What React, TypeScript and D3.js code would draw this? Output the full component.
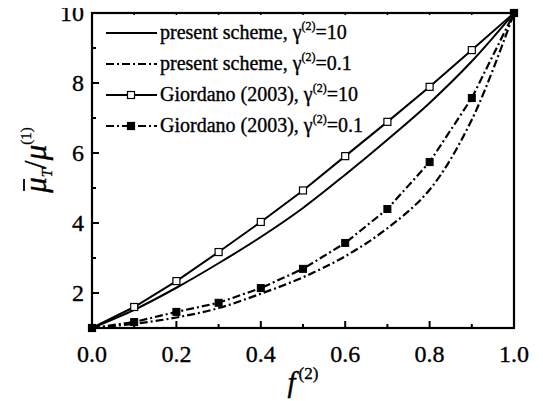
import React from "react";
import * as d3 from "d3";

const fValues = [0, 0.1, 0.2, 0.3, 0.4, 0.5, 0.6, 0.7, 0.8, 0.9, 1.0];
const presentG10 = [1, 1.52, 2.15, 2.85, 3.6, 4.43, 5.38, 6.38, 7.43, 8.62, 10];
const presentG01 = [1, 1.12, 1.3, 1.57, 1.98, 2.45, 3.05, 3.85, 4.95, 6.95, 10];
const giordanoG10 = [1, 1.6, 2.34, 3.17, 4.03, 4.93, 5.91, 6.89, 7.89, 8.94, 10];
const giordanoG01 = [1, 1.17, 1.46, 1.72, 2.14, 2.69, 3.43, 4.4, 5.74, 7.57, 10];

const xTicks = [0, 0.2, 0.4, 0.6, 0.8, 1.0];
const xMinor = [0.1, 0.3, 0.5, 0.7, 0.9];
const yTicks = [2, 4, 6, 8, 10];
const yMinor = [1, 3, 5, 7, 9];

const W = 543, H = 401;
const L = 92, R = 514, T = 13, B = 328;

export default function App() {
  const x = d3.scaleLinear().domain([0, 1]).range([L, R]);
  const y = d3.scaleLinear().domain([1, 10]).range([B, T]);
  const line = d3.line<number>().x((_, i) => x(fValues[i])).y((v) => y(v)).curve(d3.curveCatmullRom.alpha(0.5));
  const lineLin = d3.line<number>().x((_, i) => x(fValues[i])).y((v) => y(v));
  const dashDot = "8,3,2,3";
  const legendRows = [
    { y: 33, dash: undefined as string | undefined, marker: "none", label: "present scheme, ", val: "=10" },
    { y: 64, dash: dashDot, marker: "none", label: "present scheme, ", val: "=0.1" },
    { y: 95, dash: undefined, marker: "open", label: "Giordano (2003), ", val: "=10" },
    { y: 126, dash: dashDot, marker: "filled", label: "Giordano (2003), ", val: "=0.1" },
  ];
  const sq = 7;
  const bold = { stroke: "#000", strokeWidth: 0.35 };
  return (
    <svg width={W} height={H} style={{ display: "block", margin: "-8px 0 0 -8px", background: "#fff" }}>
      <g style={{ fontFamily: "Liberation Serif" }}>
        <rect x={0} y={0} width={W} height={H} fill="#fff" />
        <path d={line(presentG10) || ""} fill="none" stroke="#000" strokeWidth={2} />
        <path d={line(presentG01) || ""} fill="none" stroke="#000" strokeWidth={2.2} strokeDasharray={dashDot} />
        <path d={lineLin(giordanoG10) || ""} fill="none" stroke="#000" strokeWidth={2} />
        <path d={lineLin(giordanoG01) || ""} fill="none" stroke="#000" strokeWidth={2.2} strokeDasharray={dashDot} />
        {giordanoG10.map((v, i) => (
          <rect key={"o" + i} x={x(fValues[i]) - sq / 2} y={y(v) - sq / 2} width={sq} height={sq} fill="#fff" stroke="#000" strokeWidth={1.2} />
        ))}
        {giordanoG01.map((v, i) => (
          <rect key={"f" + i} x={x(fValues[i]) - sq / 2} y={y(v) - sq / 2} width={sq} height={sq} fill="#000" stroke="#000" strokeWidth={1} />
        ))}
        <rect x={L} y={T} width={R - L} height={B - T} fill="none" stroke="#000" strokeWidth={2.2} />
        {xTicks.map((t) => (
          <line key={"xt" + t} x1={x(t)} x2={x(t)} y1={B} y2={B - 7} stroke="#000" strokeWidth={2} />
        ))}
        {xMinor.map((t) => (
          <line key={"xm" + t} x1={x(t)} x2={x(t)} y1={B} y2={B - 4} stroke="#000" strokeWidth={2} />
        ))}
        {[...xTicks, ...xMinor].map((t) => (
          <line key={"xtop" + t} x1={x(t)} x2={x(t)} y1={T} y2={T + 2} stroke="#000" strokeWidth={1.5} />
        ))}
        {yTicks.map((t) => (
          <line key={"yt" + t} x1={L} x2={L + 7} y1={y(t)} y2={y(t)} stroke="#000" strokeWidth={2} />
        ))}
        {yMinor.map((t) => (
          <line key={"ym" + t} x1={L} x2={L + 4} y1={y(t)} y2={y(t)} stroke="#000" strokeWidth={2} />
        ))}
        {xTicks.map((t) => (
          <text key={"xl" + t} {...bold} x={x(t)} y={362} textAnchor="middle" fontSize={24}>{t.toFixed(1)}</text>
        ))}
        {yTicks.map((t) => (
          <text key={"yl" + t} {...bold} x={84} y={y(t) + 8} textAnchor="end" fontSize={24}>{String(t)}</text>
        ))}
        <text {...bold} x={303} y={392} textAnchor="middle" fontSize={29} fontStyle="italic">
          f<tspan fontSize={17} fontStyle="normal" dx={3} dy={-13}>(2)</tspan>
        </text>
        <g transform="translate(46,160) rotate(-90)">
          <text {...bold} x={0} y={0} textAnchor="middle" fontSize={31} fontStyle="italic">
            μ<tspan fontSize={15} dy={6}>T</tspan><tspan dy={-6} fontStyle="normal">/</tspan>μ<tspan fontSize={15} fontStyle="normal" dy={-15}>(1)</tspan>
          </text>
          <line x1={-31} x2={-19} y1={-22} y2={-22} stroke="#000" strokeWidth={1.8} />
        </g>
        {legendRows.map((r, i) => (
          <g key={"lg" + i}>
            <line x1={106} x2={157} y1={r.y} y2={r.y} stroke="#000" strokeWidth={2} strokeDasharray={r.dash} />
            {r.marker !== "none" && (
              <rect x={131 - sq / 2} y={r.y - sq / 2} width={sq} height={sq} fill={r.marker === "open" ? "#fff" : "#000"} stroke="#000" strokeWidth={1.2} />
            )}
            <text {...bold} x={160} y={r.y + 6} fontSize={20}>
              {r.label}γ<tspan fontSize={12} dy={-9}>(2)</tspan><tspan dy={9}>{r.val}</tspan>
            </text>
          </g>
        ))}
      </g>
    </svg>
  );
}
